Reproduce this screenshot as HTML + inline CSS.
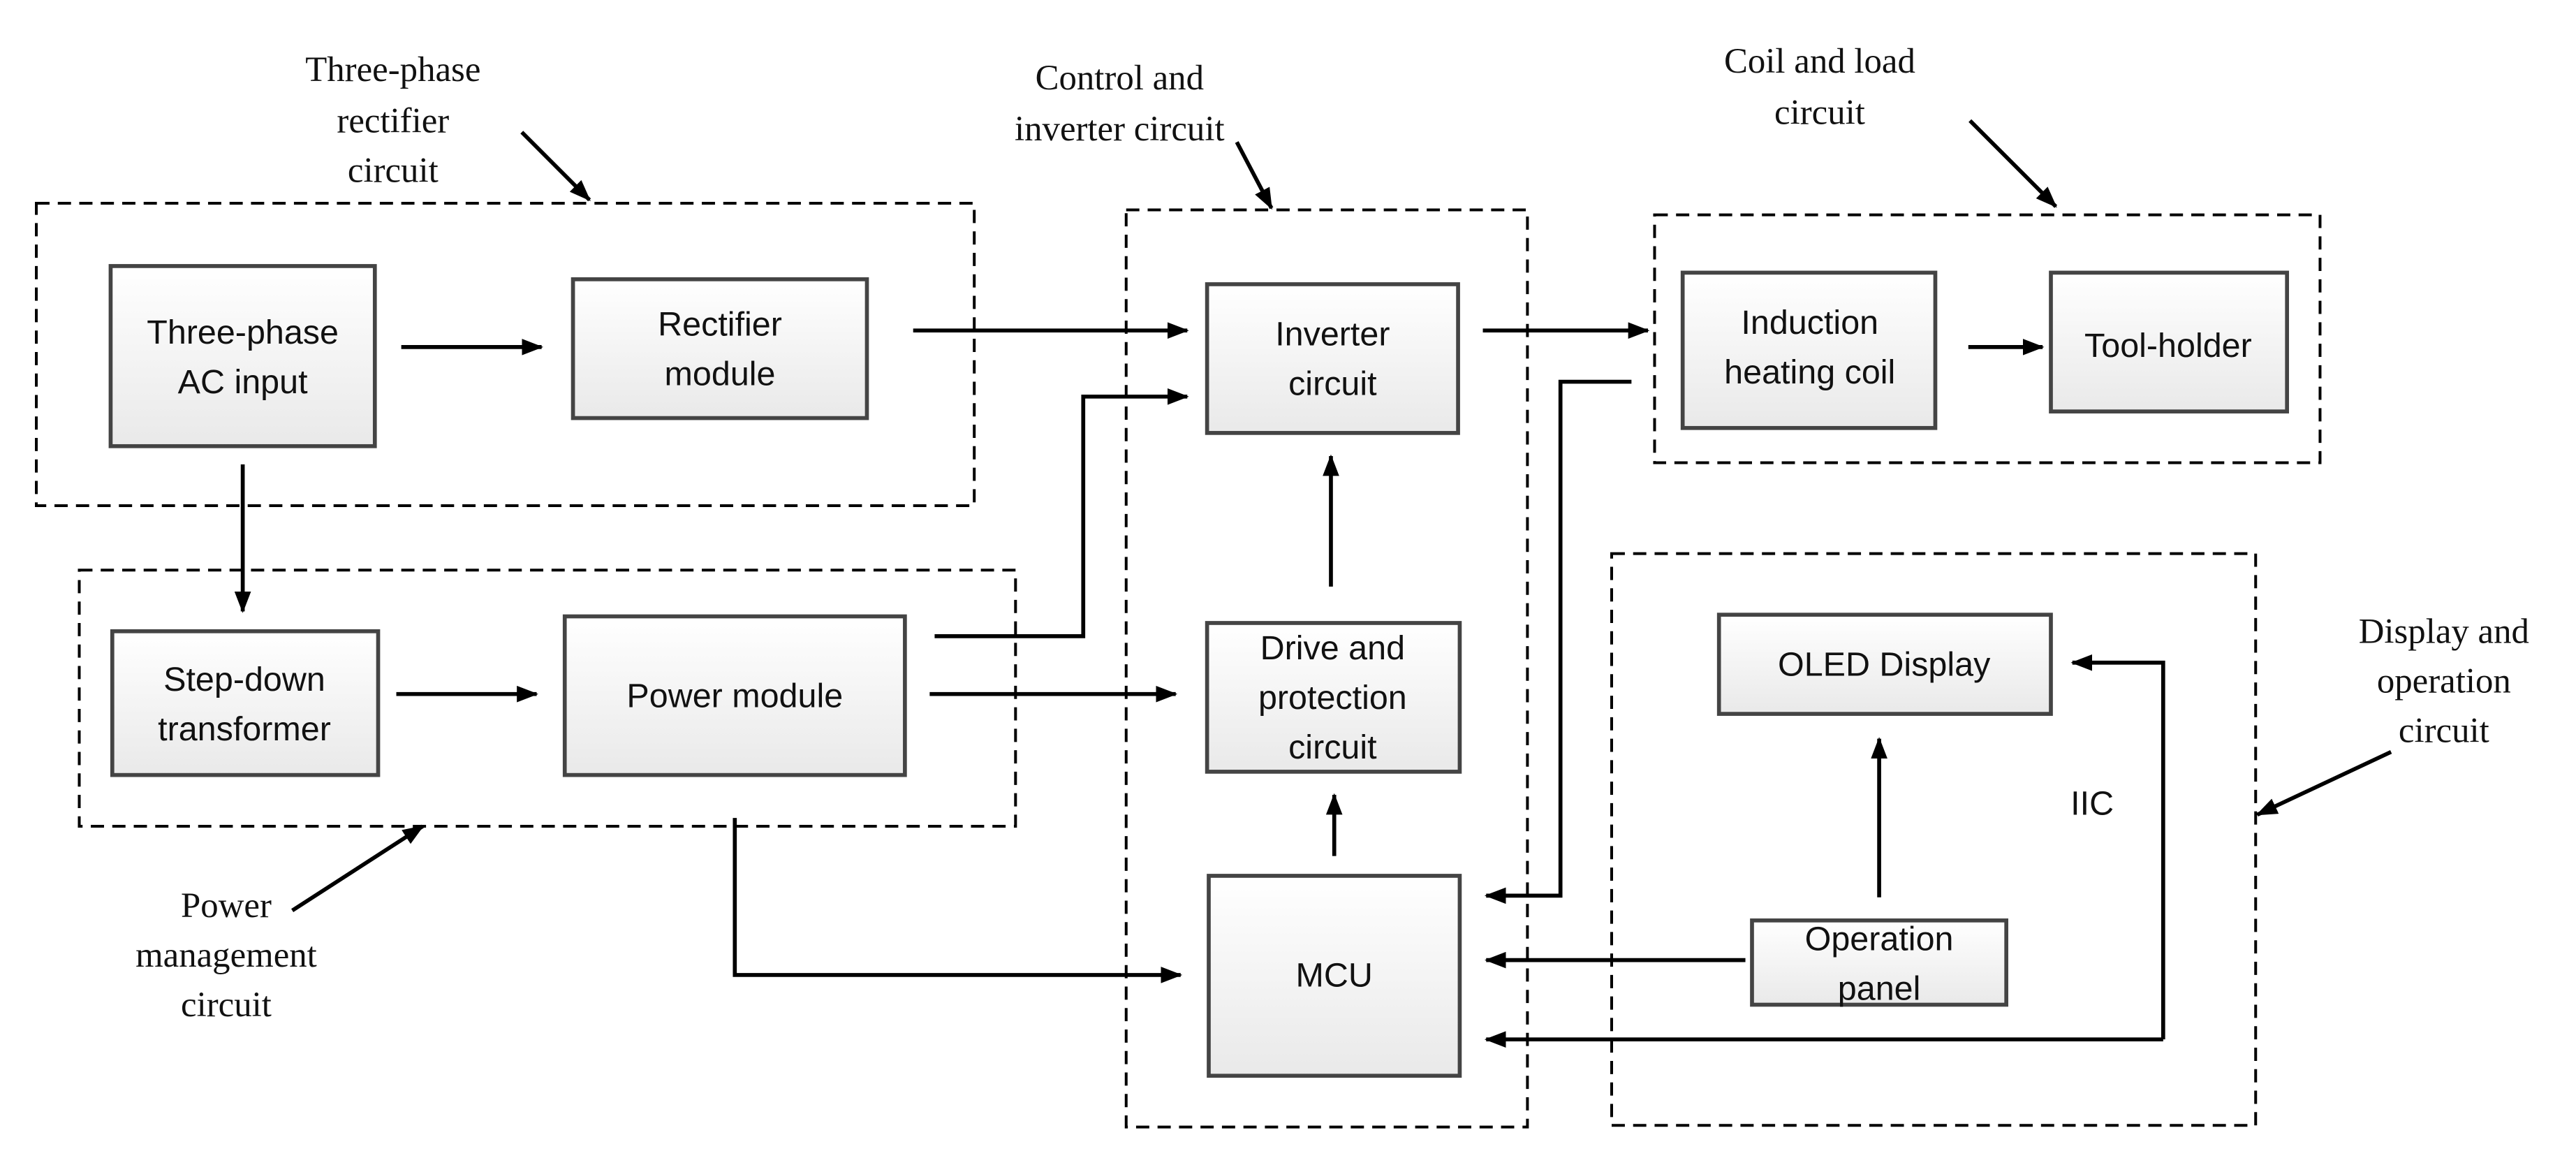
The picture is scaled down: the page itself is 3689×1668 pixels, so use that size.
<!DOCTYPE html>
<html><head><meta charset="utf-8"><style>
html,body{margin:0;padding:0;background:#fff}
svg{display:block}
.b{fill:url(#g);stroke:#444;stroke-width:2.4}
.d{fill:none;stroke:#000;stroke-width:1.7;stroke-dasharray:8 5}
.l{fill:none;stroke:#000;stroke-width:2.4}
.s{font-family:"Liberation Sans",sans-serif;font-size:20.5px;fill:#111;text-anchor:middle}
.t{font-family:"Liberation Serif",serif;font-size:21.5px;fill:#111;text-anchor:middle}
</style></head><body>
<svg width="3689" height="1668" viewBox="0 0 1560 705" preserveAspectRatio="none" xmlns="http://www.w3.org/2000/svg">
<defs>
<linearGradient id="g" x1="0" y1="0" x2="0" y2="1"><stop offset="0" stop-color="#fff"/><stop offset="1" stop-color="#e9e9e9"/></linearGradient>
<marker id="a" markerWidth="13" markerHeight="10" refX="12" refY="5" orient="auto" markerUnits="userSpaceOnUse"><path d="M0,0 L13,5 L0,10 z" fill="#000"/></marker>
</defs>
<rect class="d" x="22" y="123" width="568" height="183"/>
<rect class="d" x="48" y="345" width="567" height="155"/>
<rect class="d" x="682" y="127" width="243" height="555"/>
<rect class="d" x="1002" y="130" width="403" height="150"/>
<rect class="d" x="976" y="335" width="390" height="346"/>
<rect class="b" x="67" y="161" width="160" height="109"/>
<text class="s" x="147" y="208">Three-phase</text><text class="s" x="147" y="238">AC input</text>
<rect class="b" x="347" y="169" width="178" height="84"/>
<text class="s" x="436" y="203">Rectifier</text><text class="s" x="436" y="233">module</text>
<rect class="b" x="68" y="382" width="161" height="87"/>
<text class="s" x="148" y="418">Step-down</text><text class="s" x="148" y="448">transformer</text>
<rect class="b" x="342" y="373" width="206" height="96"/>
<text class="s" x="445" y="428">Power module</text>
<rect class="b" x="731" y="172" width="152" height="90"/>
<text class="s" x="807" y="209">Inverter</text><text class="s" x="807" y="239">circuit</text>
<rect class="b" x="731" y="377" width="153" height="90"/>
<text class="s" x="807" y="399">Drive and</text><text class="s" x="807" y="429">protection</text><text class="s" x="807" y="459">circuit</text>
<rect class="b" x="732" y="530" width="152" height="121"/>
<text class="s" x="808" y="597">MCU</text>
<rect class="b" x="1019" y="165" width="153" height="94"/>
<text class="s" x="1096" y="202">Induction</text><text class="s" x="1096" y="232">heating coil</text>
<rect class="b" x="1242" y="165" width="143" height="84"/>
<text class="s" x="1313" y="216">Tool-holder</text>
<rect class="b" x="1041" y="372" width="201" height="60"/>
<text class="s" x="1141" y="409">OLED Display</text>
<rect class="b" x="1061" y="557" width="154" height="51"/>
<text class="s" x="1138" y="575">Operation</text><text class="s" x="1138" y="605">panel</text>
<text class="s" x="1267" y="493">IIC</text>
<line class="l" x1="243" y1="210" x2="328" y2="210" marker-end="url(#a)"/>
<line class="l" x1="553" y1="200" x2="719" y2="200" marker-end="url(#a)"/>
<line class="l" x1="147" y1="281" x2="147" y2="370" marker-end="url(#a)"/>
<line class="l" x1="240" y1="420" x2="325" y2="420" marker-end="url(#a)"/>
<polyline class="l" points="566,385 656,385 656,240 719,240" marker-end="url(#a)"/>
<line class="l" x1="563" y1="420" x2="712" y2="420" marker-end="url(#a)"/>
<polyline class="l" points="445,495 445,590 715,590" marker-end="url(#a)"/>
<line class="l" x1="806" y1="355" x2="806" y2="276" marker-end="url(#a)"/>
<line class="l" x1="808" y1="518" x2="808" y2="481" marker-end="url(#a)"/>
<line class="l" x1="898" y1="200" x2="998" y2="200" marker-end="url(#a)"/>
<polyline class="l" points="988,231 945,231 945,542 900,542" marker-end="url(#a)"/>
<line class="l" x1="1192" y1="210" x2="1237" y2="210" marker-end="url(#a)"/>
<line class="l" x1="1138" y1="543" x2="1138" y2="447" marker-end="url(#a)"/>
<line class="l" x1="1057" y1="581" x2="900" y2="581" marker-end="url(#a)"/>
<polyline class="l" points="1310,629 1310,401 1255,401" marker-end="url(#a)"/>
<line class="l" x1="1310" y1="629" x2="900" y2="629" marker-end="url(#a)"/>
<text class="t" x="238" y="49">Three-phase</text><text class="t" x="238" y="80">rectifier</text><text class="t" x="238" y="110">circuit</text>
<line class="l" x1="316" y1="80" x2="357" y2="121" marker-end="url(#a)"/>
<text class="t" x="678" y="54">Control and</text><text class="t" x="678" y="85">inverter circuit</text>
<line class="l" x1="749" y1="86" x2="770" y2="126" marker-end="url(#a)"/>
<text class="t" x="1102" y="44">Coil and load</text><text class="t" x="1102" y="75">circuit</text>
<line class="l" x1="1193" y1="73" x2="1245" y2="125" marker-end="url(#a)"/>
<text class="t" x="1480" y="389">Display and</text><text class="t" x="1480" y="419">operation</text><text class="t" x="1480" y="449">circuit</text>
<line class="l" x1="1448" y1="455" x2="1367" y2="493" marker-end="url(#a)"/>
<text class="t" x="137" y="555">Power</text><text class="t" x="137" y="585">management</text><text class="t" x="137" y="615">circuit</text>
<line class="l" x1="177" y1="551" x2="256" y2="500" marker-end="url(#a)"/>
</svg>
</body></html>
